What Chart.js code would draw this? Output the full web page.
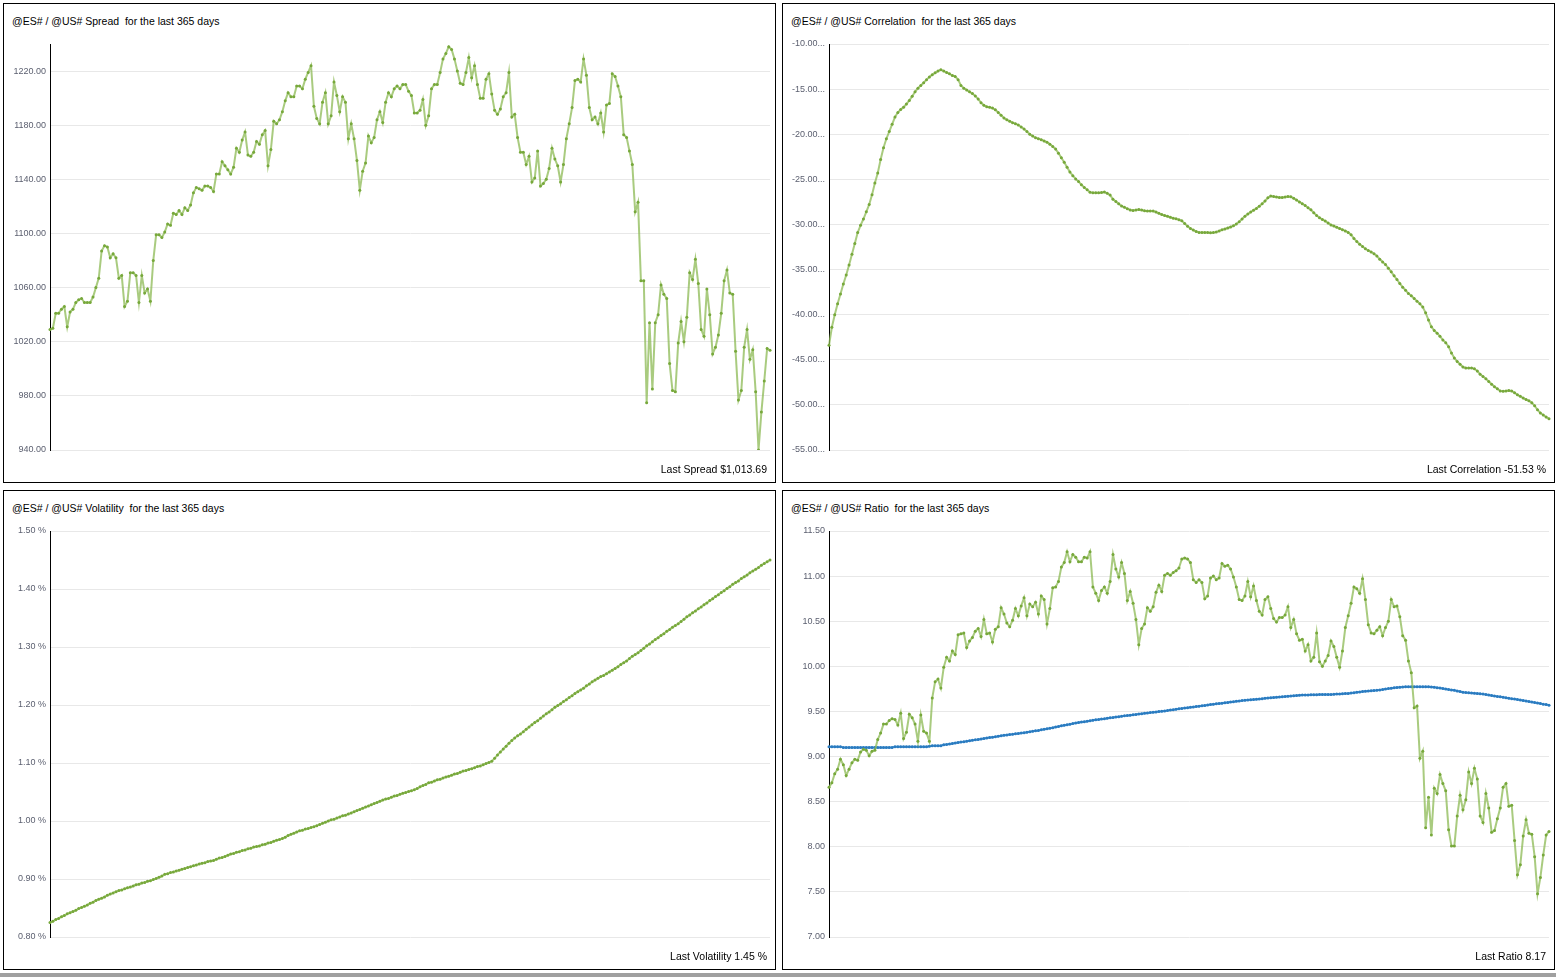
<!DOCTYPE html>
<html>
<head>
<meta charset="utf-8">
<title>@ES# / @US# pair statistics</title>
<script src="https://cdn.jsdelivr.net/npm/chart.js@4.4.1/dist/chart.umd.min.js"></script>
<style>
  body { margin: 0; background: #fff; width: 1556px; height: 977px; position: relative; overflow: hidden;
         font-family: "Liberation Sans", Arial, sans-serif; }
  .panel { position: absolute; width: 773px; height: 480px; border: 1px solid #000; box-sizing: border-box; }
  .panel canvas { position: absolute; left: 0; top: 0; }
  .title { position: absolute; left: 8px; top: 11px; font-size: 10.5px; line-height: 12px; color: #000; white-space: pre; }
  .last { position: absolute; right: 8px; top: 459px; font-size: 10.5px; line-height: 12px; color: #000; white-space: pre; }
  .bar { position: absolute; left: 0; top: 973px; width: 1556px; height: 4px; background: #a0a0a0; }
</style>
</head>
<body>

<div class="panel" style="left:3px;top:3px">
  <div class="title">@ES# / @US# Spread  for the last 365 days</div>
  <canvas id="spreadChart" width="771" height="478"></canvas>
  <div class="last" id="lastSpread"></div>
</div>
<div class="panel" style="left:782px;top:3px">
  <div class="title">@ES# / @US# Correlation  for the last 365 days</div>
  <canvas id="corrChart" width="771" height="478"></canvas>
  <div class="last" id="lastCorr"></div>
</div>
<div class="panel" style="left:3px;top:490px">
  <div class="title">@ES# / @US# Volatility  for the last 365 days</div>
  <canvas id="volChart" width="771" height="478"></canvas>
  <div class="last" id="lastVol"></div>
</div>
<div class="panel" style="left:782px;top:490px">
  <div class="title">@ES# / @US# Ratio  for the last 365 days</div>
  <canvas id="ratioChart" width="771" height="478"></canvas>
  <div class="last" id="lastRatio"></div>
</div>
<div class="bar"></div>

<script>
// ---- data (one value per trading day, oldest first) ----
const spread = [
  1029, 1030, 1041, 1041, 1044, 1046, 1031, 1042, 1044, 1049,
  1051, 1052, 1049, 1049, 1049, 1053, 1060, 1067, 1087, 1091,
  1090, 1082, 1085, 1082, 1067, 1069, 1046, 1050, 1071, 1071,
  1069, 1049, 1069, 1056, 1059, 1050, 1080, 1099, 1099, 1097,
  1101, 1107, 1106, 1115, 1114, 1117, 1114, 1119, 1117, 1121,
  1130, 1134, 1133, 1132, 1135, 1135, 1134, 1131, 1144, 1144,
  1153, 1150, 1147, 1144, 1149, 1163, 1160, 1169, 1175, 1158,
  1157, 1160, 1168, 1166, 1173, 1176, 1150, 1162, 1183, 1181,
  1184, 1190, 1198, 1204, 1201, 1201, 1209, 1209, 1207, 1214,
  1219, 1224, 1194, 1185, 1181, 1197, 1204, 1181, 1187, 1212,
  1202, 1190, 1201, 1197, 1170, 1181, 1170, 1154, 1132, 1146,
  1152, 1172, 1167, 1171, 1184, 1190, 1182, 1197, 1204, 1201,
  1207, 1209, 1207, 1210, 1210,
  1205, 1202, 1189, 1189, 1191, 1199, 1180, 1187, 1207, 1210,
  1210, 1219, 1229, 1233, 1238, 1236, 1229, 1220, 1211, 1210,
  1219, 1230, 1215, 1224, 1210, 1200, 1200, 1214, 1218, 1203,
  1191, 1188, 1192, 1201, 1204, 1219, 1186, 1188, 1171, 1160,
  1160, 1151, 1157, 1138, 1141, 1161, 1135, 1137, 1140, 1148,
  1163, 1155, 1150, 1138, 1151, 1170, 1181, 1193, 1213, 1214,
  1212, 1229, 1217, 1193, 1184, 1186, 1181, 1189, 1175, 1195,
  1196, 1218, 1216, 1209, 1201, 1173, 1171, 1161, 1151, 1116,
  1123, 1065, 1065, 975, 1034, 985, 1034, 1040, 1062, 1055,
  1052, 1004, 984, 983, 1019, 1035, 1020, 1038, 1071, 1066,
  1081, 1063, 1029, 1024, 1059, 1040, 1011, 1016, 1025, 1041,
  1065, 1073, 1056, 1055, 1013, 977, 984, 1016, 1029, 1007,
  1014, 983, 940, 968, 991, 1015, 1013.69
];

const correlation = [
  -43.4, -41.4, -40.0, -38.8, -37.7, -36.6, -35.6, -34.5, -33.3, -32.1,
  -30.9, -30.1, -29.4, -28.6, -27.8, -26.7, -25.4, -24.3, -22.8, -21.5,
  -20.5, -19.7, -18.9, -18.1, -17.6, -17.25, -17.0, -16.65, -16.25, -15.8,
  -15.3, -14.9, -14.6, -14.3, -13.95, -13.65, -13.4, -13.2, -13.0, -12.85,
  -13.0, -13.15, -13.3, -13.5, -13.6, -13.95, -14.6, -14.9, -15.1, -15.3,
  -15.5, -15.75, -16.1, -16.5, -16.8, -16.95, -17.0, -17.1, -17.3, -17.6,
  -17.9, -18.2, -18.4, -18.55, -18.72, -18.83, -18.98, -19.2, -19.42, -19.7,
  -20.0, -20.2, -20.38, -20.5, -20.6, -20.75, -20.88, -21.1, -21.35, -21.65,
  -22.1, -22.6, -23.1, -23.65, -24.2, -24.6, -24.95, -25.25, -25.6, -25.9,
  -26.15, -26.42, -26.5, -26.5, -26.5, -26.45, -26.4, -26.55, -26.75, -27.2,
  -27.45, -27.72, -27.95, -28.1, -28.25, -28.4, -28.45, -28.4, -28.35, -28.4,
  -28.47, -28.5, -28.5, -28.52, -28.62, -28.77, -28.9, -29.0, -29.1, -29.2,
  -29.3, -29.38, -29.48, -29.6, -29.9, -30.2, -30.45, -30.62, -30.78, -30.88,
  -30.9, -30.9, -30.9, -30.93, -30.9, -30.85, -30.72, -30.6, -30.5, -30.4,
  -30.28, -30.15, -29.95, -29.7, -29.4, -29.1, -28.85, -28.63, -28.42, -28.22,
  -27.98, -27.7, -27.4, -27.05, -26.85, -26.9, -26.95, -27.0, -27.0, -26.95,
  -26.9, -26.92, -27.1, -27.3, -27.5, -27.7, -27.9, -28.15, -28.38, -28.7,
  -29.0, -29.25, -29.45, -29.62, -29.85, -30.05, -30.17, -30.3, -30.45, -30.58,
  -30.72, -30.88, -31.15, -31.55, -31.9, -32.2, -32.45, -32.7, -32.9, -33.05,
  -33.25, -33.5, -33.85, -34.15, -34.45, -34.85, -35.25, -35.7, -36.1, -36.55,
  -36.95, -37.3, -37.65, -37.9, -38.2, -38.5, -38.8, -39.15, -39.8, -40.6,
  -41.35, -41.75, -42.05, -42.4, -42.8, -43.1, -43.55, -44.25, -44.8, -45.2,
  -45.5, -45.8, -45.9, -45.9, -45.9, -46.0, -46.25, -46.6, -46.85, -47.1,
  -47.4, -47.7, -47.98, -48.22, -48.45, -48.5, -48.45, -48.4, -48.45, -48.65,
  -48.88, -49.05, -49.25, -49.4, -49.55, -49.75, -50.1, -50.55, -50.9, -51.12,
  -51.35, -51.53
];

const volatility = [
  0.825, 0.827, 0.830, 0.832, 0.835, 0.837, 0.840, 0.842, 0.844, 0.846,
  0.849, 0.851, 0.853, 0.855, 0.858, 0.860, 0.863, 0.865, 0.867, 0.869,
  0.872, 0.874, 0.876, 0.878, 0.880, 0.881, 0.883, 0.885, 0.886, 0.888,
  0.890, 0.891, 0.893, 0.894, 0.896, 0.897, 0.899, 0.901, 0.903, 0.905,
  0.908, 0.909, 0.911, 0.912, 0.914, 0.915, 0.917, 0.918, 0.920, 0.921,
  0.923, 0.924, 0.926, 0.927, 0.928, 0.930, 0.931, 0.932, 0.934, 0.936,
  0.937, 0.939, 0.941, 0.943, 0.944, 0.946, 0.947, 0.949, 0.950, 0.952,
  0.953, 0.955, 0.956, 0.957, 0.959, 0.960, 0.962, 0.963, 0.965, 0.967,
  0.968, 0.970, 0.972, 0.975, 0.977, 0.979, 0.981, 0.983, 0.984, 0.986,
  0.987, 0.989, 0.990, 0.992, 0.994, 0.996, 0.998, 1.000, 1.002, 1.003,
  1.005, 1.007, 1.009, 1.010, 1.012, 1.014, 1.016, 1.018, 1.020, 1.022,
  1.024, 1.026, 1.028, 1.030, 1.032, 1.034, 1.036, 1.038, 1.039, 1.041,
  1.043, 1.044, 1.046, 1.048, 1.049, 1.051, 1.052, 1.054, 1.056, 1.059,
  1.061, 1.063, 1.066, 1.067, 1.069, 1.071, 1.072, 1.074, 1.076, 1.077,
  1.079, 1.081, 1.082, 1.084, 1.086, 1.087, 1.089, 1.090, 1.092, 1.094,
  1.095, 1.097, 1.099, 1.101, 1.103, 1.108, 1.114, 1.119, 1.124, 1.129,
  1.134, 1.139, 1.143, 1.147, 1.150, 1.154, 1.158, 1.162, 1.166, 1.170,
  1.173, 1.177, 1.181, 1.185, 1.188, 1.192, 1.196, 1.199, 1.202, 1.206,
  1.209, 1.213, 1.216, 1.220, 1.223, 1.226, 1.229, 1.233, 1.236, 1.240,
  1.243, 1.246, 1.249, 1.251, 1.254, 1.257, 1.260, 1.263, 1.266, 1.270,
  1.273, 1.276, 1.280, 1.284, 1.287, 1.290, 1.294, 1.298, 1.302, 1.305,
  1.309, 1.313, 1.316, 1.320, 1.323, 1.327, 1.330, 1.334, 1.337, 1.340,
  1.344, 1.348, 1.352, 1.355, 1.359, 1.362, 1.366, 1.369, 1.373, 1.376,
  1.380, 1.383, 1.387, 1.390, 1.394, 1.397, 1.401, 1.404, 1.408, 1.411,
  1.414, 1.418, 1.421, 1.424, 1.428, 1.431, 1.434, 1.437, 1.441, 1.444,
  1.447, 1.450
];

const ratio = [
  8.66, 8.71, 8.81, 8.86, 8.97, 8.91, 8.79, 8.86, 8.93, 8.97,
  8.96, 9.05, 9.08, 9.07, 9.01, 9.06, 9.07, 9.19, 9.26, 9.36,
  9.36, 9.40, 9.42, 9.41, 9.35, 9.48, 9.20, 9.27, 9.47, 9.43,
  9.36, 9.17, 9.46, 9.28, 9.26, 9.17, 9.65, 9.83, 9.86, 9.76,
  9.99, 10.10, 10.06, 10.17, 10.13, 10.35, 10.36, 10.37, 10.21, 10.28,
  10.32, 10.39, 10.42, 10.33, 10.52, 10.36, 10.37, 10.27, 10.41, 10.44,
  10.65, 10.58, 10.48, 10.44, 10.51, 10.64, 10.56, 10.67, 10.76, 10.56,
  10.69, 10.66, 10.71, 10.58, 10.78, 10.74, 10.47, 10.64, 10.87, 10.88,
  10.94, 11.10, 11.15, 11.27, 11.16, 11.24, 11.21, 11.16, 11.16, 11.21,
  11.20, 11.27, 10.88, 10.81, 10.73, 10.84, 10.88, 10.81, 10.94, 11.24,
  11.08, 10.99, 11.15, 11.03, 10.73, 10.83, 10.70, 10.52, 10.24, 10.42,
  10.47, 10.65, 10.61, 10.66, 10.82, 10.90, 10.83, 11.01, 11.03, 11.01,
  11.04, 11.06, 11.09, 11.19, 11.20, 11.19, 11.15, 10.96, 10.93, 10.96,
  10.93, 10.75, 10.78, 10.98, 11.00, 10.96, 10.98, 11.14, 11.11, 11.12,
  11.08, 10.99, 10.88, 10.74, 10.73, 10.78, 10.94, 10.77, 10.89, 10.73,
  10.61, 10.57, 10.74, 10.77, 10.64, 10.53, 10.49, 10.54, 10.54, 10.57,
  10.66, 10.43, 10.52, 10.36, 10.29, 10.30, 10.17, 10.24, 10.06, 10.10,
  10.37, 10.05, 10.00, 10.06, 10.12, 10.28, 10.22, 10.10, 9.99, 10.17,
  10.43, 10.56, 10.70, 10.88, 10.86, 10.81, 10.97, 10.74, 10.46, 10.37,
  10.36, 10.40, 10.44, 10.34, 10.43, 10.50, 10.74, 10.66, 10.67, 10.55,
  10.34, 10.29, 10.06, 9.93, 9.54, 9.56, 8.98, 9.06, 8.21, 8.55,
  8.13, 8.65, 8.59, 8.80, 8.70, 8.62, 8.19, 8.01, 8.01, 8.34,
  8.57, 8.41, 8.52, 8.83, 8.70, 8.87, 8.75, 8.34, 8.27, 8.59,
  8.43, 8.16, 8.18, 8.31, 8.43, 8.66, 8.70, 8.45, 8.46, 8.07,
  7.69, 7.80, 8.12, 8.30, 8.15, 8.14, 7.89, 7.48, 7.66, 7.91,
  8.13, 8.17
];

// moving average of the ratio (blue line)
const ratioAvg = [
  9.11, 9.11, 9.11, 9.11, 9.11, 9.10, 9.10, 9.10, 9.10, 9.10,
  9.10, 9.10, 9.10, 9.10, 9.10, 9.10, 9.10, 9.10, 9.10, 9.10,
  9.10, 9.10, 9.10, 9.11, 9.11, 9.11, 9.11, 9.11, 9.11, 9.11,
  9.11, 9.11, 9.11, 9.11, 9.11, 9.115, 9.12, 9.12, 9.12, 9.12,
  9.13, 9.135, 9.14, 9.145, 9.15, 9.155, 9.16, 9.165, 9.17, 9.175,
  9.18, 9.185, 9.19, 9.195, 9.20, 9.205, 9.21, 9.215, 9.22, 9.225,
  9.23, 9.235, 9.24, 9.245, 9.248, 9.252, 9.256, 9.26, 9.265, 9.27,
  9.274, 9.28, 9.285, 9.29, 9.296, 9.302, 9.308, 9.314, 9.32, 9.327,
  9.334, 9.341, 9.347, 9.353, 9.359, 9.365, 9.371, 9.377, 9.382, 9.387,
  9.392, 9.397, 9.402, 9.407, 9.411, 9.416, 9.42, 9.425, 9.429, 9.433,
  9.438, 9.442, 9.446, 9.451, 9.455, 9.459, 9.463, 9.467, 9.471, 9.475,
  9.479, 9.483, 9.487, 9.491, 9.495, 9.499, 9.502, 9.506, 9.51, 9.515,
  9.52, 9.525, 9.53, 9.534, 9.538, 9.542, 9.546, 9.55, 9.554, 9.558,
  9.562, 9.567, 9.571, 9.576, 9.58, 9.584, 9.588, 9.592, 9.596, 9.60,
  9.604, 9.608, 9.612, 9.616, 9.62, 9.624, 9.627, 9.63, 9.633, 9.636,
  9.639, 9.642, 9.645, 9.648, 9.651, 9.654, 9.657, 9.66, 9.663, 9.666,
  9.669, 9.671, 9.674, 9.677, 9.679, 9.681, 9.682, 9.683, 9.684, 9.685,
  9.686, 9.687, 9.688, 9.688, 9.689, 9.689, 9.69, 9.692, 9.694, 9.696,
  9.698, 9.70, 9.704, 9.708, 9.712, 9.716, 9.72, 9.723, 9.726, 9.729,
  9.732, 9.735, 9.739, 9.743, 9.748, 9.753, 9.758, 9.762, 9.766, 9.769,
  9.771, 9.773, 9.774, 9.775, 9.775, 9.775, 9.775, 9.775, 9.774, 9.773,
  9.771, 9.768, 9.764, 9.759, 9.754, 9.749, 9.744, 9.739, 9.734, 9.727,
  9.72, 9.714, 9.71, 9.708, 9.705, 9.702, 9.699, 9.696, 9.692, 9.687,
  9.682, 9.677, 9.672, 9.667, 9.662, 9.657, 9.652, 9.647, 9.642, 9.637,
  9.632, 9.626, 9.621, 9.615, 9.61, 9.604, 9.598, 9.593, 9.587, 9.581,
  9.576, 9.57
];

const spreadTicks = [940, 980, 1020, 1060, 1100, 1140, 1180, 1220];
const corrTicks = [-55, -50, -45, -40, -35, -30, -25, -20, -15, -10];
const volTicks = [0.8, 0.9, 1.0, 1.1, 1.2, 1.3, 1.4, 1.5];
const ratioTicks = [7.0, 7.5, 8.0, 8.5, 9.0, 9.5, 10.0, 10.5, 11.0, 11.5];

// ---- drawing ----
const GREEN_LINE = 'rgba(140, 186, 84, 0.75)';
const GREEN_POINT = '#77a83b';
const BLUE_LINE = '#4a97d4';
const BLUE_POINT = '#2a7bc0';

function dayLabels(n) {
    return Array.from({ length: n }, (_, i) => i + 1);
}

function series(values, line, point) {
    return {
        data: values,
        borderColor: line,
        borderWidth: 2,
        pointRadius: 1.5,
        pointBorderWidth: 0,
        pointBackgroundColor: point,
        tension: 0
    };
}

function makeChart(id, datasets, ticks, min, max, fmt) {
    const ctx = document.getElementById(id).getContext('2d');
    return new Chart(ctx, {
        type: 'line',
        data: { labels: dayLabels(datasets[0].data.length), datasets: datasets },
        options: {
            responsive: false,
            animation: false,
            devicePixelRatio: 1,
            layout: { padding: { top: 40, bottom: 32, left: 0, right: 5 } },
            plugins: { legend: { display: false }, tooltip: { enabled: false } },
            scales: {
                x: { display: false },
                y: {
                    min: min,
                    max: max,
                    afterBuildTicks: function (scale) {
                        scale.ticks = ticks.map(v => ({ value: v }));
                    },
                    afterFit: function (scale) {
                        scale.width = 46;
                    },
                    grid: { color: '#e8e8e8', lineWidth: 1, drawTicks: false },
                    border: { display: true, color: '#000', width: 1 },
                    ticks: {
                        padding: 4,
                        color: '#5c6070',
                        font: { family: '"Liberation Sans", Arial, sans-serif', size: 9 },
                        callback: fmt
                    }
                }
            }
        }
    });
}

makeChart('spreadChart', [series(spread, GREEN_LINE, GREEN_POINT)],
    spreadTicks, 940, 1240, v => v.toFixed(2));
makeChart('corrChart', [series(correlation, GREEN_LINE, GREEN_POINT)],
    corrTicks, -55, -10, v => v.toFixed(2) + '...');
makeChart('volChart', [series(volatility, GREEN_LINE, GREEN_POINT)],
    volTicks, 0.8, 1.5, v => v.toFixed(2) + ' %');
makeChart('ratioChart', [series(ratio, GREEN_LINE, GREEN_POINT), series(ratioAvg, BLUE_LINE, BLUE_POINT)],
    ratioTicks, 7, 11.5, v => v.toFixed(2));

const last = a => a[a.length - 1];
document.getElementById('lastSpread').textContent =
    'Last Spread $' + last(spread).toLocaleString('en-US', { minimumFractionDigits: 2, maximumFractionDigits: 2 });
document.getElementById('lastCorr').textContent = 'Last Correlation ' + last(correlation).toFixed(2) + ' %';
document.getElementById('lastVol').textContent = 'Last Volatility ' + last(volatility).toFixed(2) + ' %';
document.getElementById('lastRatio').textContent = 'Last Ratio ' + last(ratio).toFixed(2);
</script>
</body>
</html>
